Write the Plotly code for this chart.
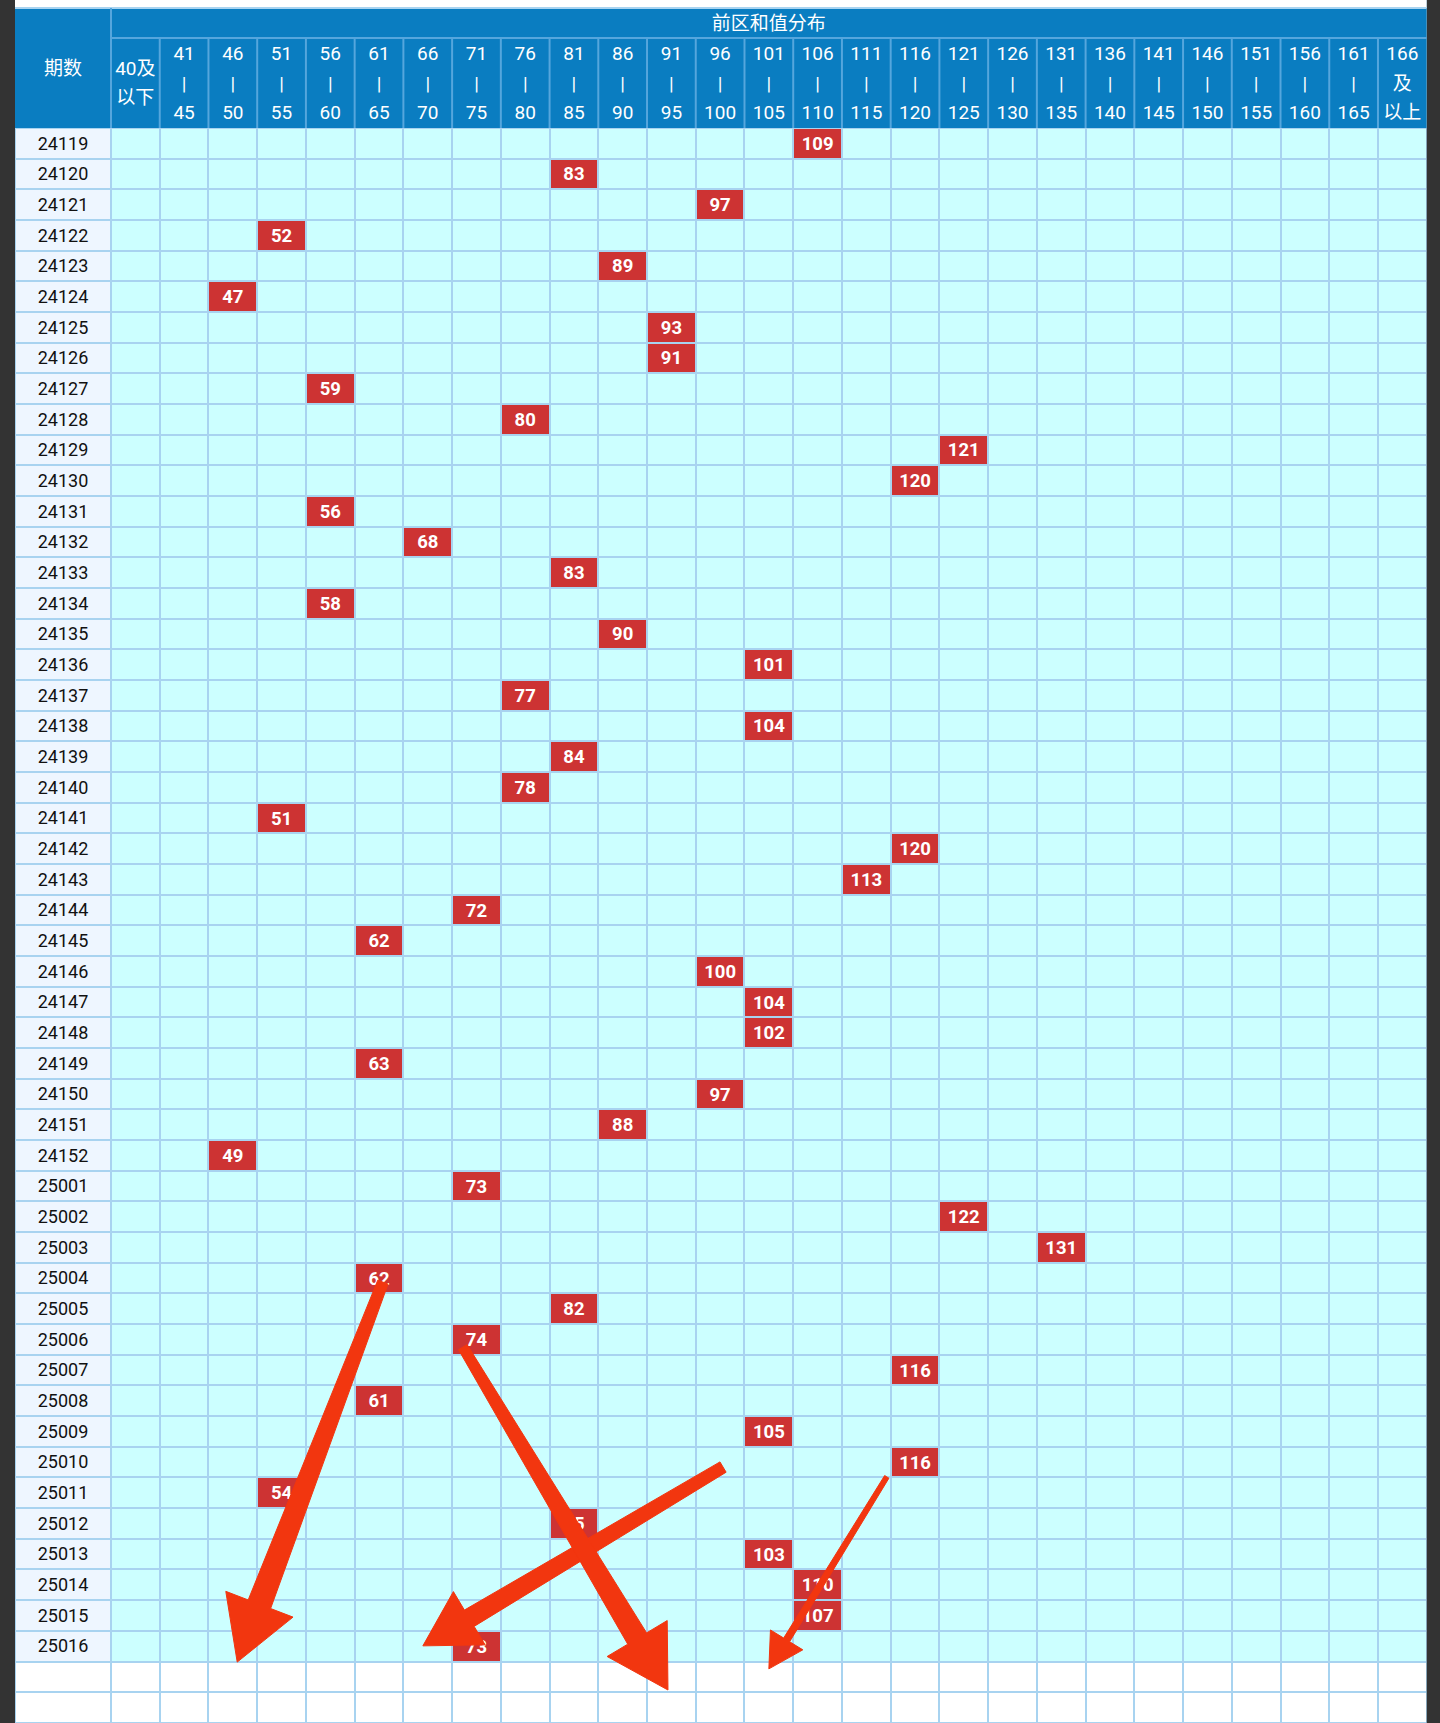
import numpy as np
import plotly.graph_objects as go

# ---------------- data ----------------
periods = ["24119", "24120", "24121", "24122", "24123", "24124", "24125", "24126", "24127", "24128",
           "24129", "24130", "24131", "24132", "24133", "24134", "24135", "24136", "24137", "24138",
           "24139", "24140", "24141", "24142", "24143", "24144", "24145", "24146", "24147", "24148",
           "24149", "24150", "24151", "24152", "25001", "25002", "25003", "25004", "25005", "25006",
           "25007", "25008", "25009", "25010", "25011", "25012", "25013", "25014", "25015", "25016"]
sums = [109, 83, 97, 52, 89, 47, 93, 91, 59, 80,
        121, 120, 56, 68, 83, 58, 90, 101, 77, 104,
        84, 78, 51, 120, 113, 72, 62, 100, 104, 102,
        63, 97, 88, 49, 73, 122, 131, 62, 82, 74,
        116, 61, 105, 116, 54, 85, 103, 110, 107, 73]
range_low = [41, 46, 51, 56, 61, 66, 71, 76, 81, 86, 91, 96, 101, 106, 111,
             116, 121, 126, 131, 136, 141, 146, 151, 156, 161]
range_high = [45, 50, 55, 60, 65, 70, 75, 80, 85, 90, 95, 100, 105, 110, 115,
              120, 125, 130, 135, 140, 145, 150, 155, 160, 165]
first_label = ["40及", "以下"]
last_label = ["166", "及", "以上"]
title_text = "前区和值分布"
period_header = "期数"
blank_rows = 2

# ---------------- layout geometry ----------------
W, H = 1440, 1723
XS, YS = 48.73, 30.67            # px per column / per row
DATA_LEFT, HEAD_BOTTOM = 111, 128
LEFT_PX, RIGHT_PX = 15, 1426.7
TXT_DY = 1.8 / YS                # small downward nudge for text baseline


def xu(px):
    return (px - DATA_LEFT) / XS - 0.5


def yu(py):
    return (py - HEAD_BOTTOM) / YS - 0.5


n_cols = len(range_low) + 2
n_rows = len(periods)

C_CYAN = "#ccffff"
C_RED = "#cd3333"
C_WHITE = "#ffffff"
C_PERIOD = "#eef6ff"
C_GRID = "#a8d3f0"
C_HEAD = "#0a7dc1"
C_HEADLINE = "#55a6dd"
C_ARROW = "#f2360f"
FONT = "Roboto, 'Noto Sans CJK SC', sans-serif"


def col_of(v):
    if v <= 40:
        return 0
    if v >= 166:
        return n_cols - 1
    for i, (lo, hi) in enumerate(zip(range_low, range_high)):
        if lo <= v <= hi:
            return i + 1
    return None


# heatmap matrix: period column + data columns; 0 cyan, 1 red, 2 white, 3 period
z = []
for r in range(n_rows + blank_rows):
    if r < n_rows:
        row = [3] + [0] * n_cols
        row[col_of(sums[r]) + 1] = 1
    else:
        row = [2] * (n_cols + 1)
    z.append(row)

x_edges = [xu(LEFT_PX)] + [c - 0.5 for c in range(n_cols + 1)]
y_edges = [r - 0.5 for r in range(n_rows + blank_rows + 1)]

fig = go.Figure()
fig.add_trace(go.Heatmap(
    z=z, x=x_edges, y=y_edges, zmin=0, zmax=3,
    colorscale=[[0, C_CYAN], [1 / 3, C_RED], [2 / 3, C_WHITE], [1, C_PERIOD]],
    showscale=False, xgap=2, ygap=2, hoverinfo="skip"))

period_x = (x_edges[0] + x_edges[1]) / 2
row_y = [r + TXT_DY for r in range(n_rows)]

# period labels
fig.add_trace(go.Scatter(
    x=[period_x] * n_rows, y=row_y, text=periods, mode="text",
    textfont=dict(family=FONT, size=18, color="#111111"), hoverinfo="skip"))

# values in red cells
fig.add_trace(go.Scatter(
    x=[col_of(v) for v in sums], y=row_y, text=[str(v) for v in sums],
    mode="text", textfont=dict(family=FONT, size=18.5, color="white", weight="bold"),
    hoverinfo="skip"))

# header labels
y_top, y_mid, y_bot = yu(55.5), yu(85.5), yu(114.5)
hx, hy, ht = [], [], []
for i, (lo, hi) in enumerate(zip(range_low, range_high)):
    c = i + 1
    hx += [c, c, c]
    hy += [y_top, y_mid, y_bot]
    ht += [str(lo), "|", str(hi)]
hx += [0, 0]
hy += [yu(70.5), yu(99.5)]
ht += first_label
c = n_cols - 1
hx += [c, c, c]
hy += [y_top, y_mid, y_bot]
ht += last_label
hx += [(n_cols - 1) / 2, period_x]
hy += [yu(25.5), (yu(8) + yu(128)) / 2 + TXT_DY]
ht += [title_text, period_header]
fig.add_trace(go.Scatter(
    x=hx, y=hy, text=ht, mode="text",
    textfont=dict(family=FONT, size=19, color="white"), hoverinfo="skip"))

# ---------------- shapes ----------------
shapes = []
x0, x1 = x_edges[0], n_cols - 0.5
# top white band
shapes.append(dict(type="rect", xref="x", yref="y", x0=x0, x1=x1, y0=yu(0), y1=yu(8),
                   fillcolor="white", line=dict(width=0), layer="below"))
# header block
shapes.append(dict(type="rect", xref="x", yref="y", x0=x0, x1=x1, y0=yu(8), y1=-0.5,
                   fillcolor=C_HEAD, line=dict(width=0), layer="below"))
shapes.append(dict(type="line", xref="x", yref="y", x0=x0, x1=x1, y0=yu(8), y1=yu(8),
                   line=dict(color=C_GRID, width=2), layer="below"))
# header separators
shapes.append(dict(type="line", xref="x", yref="y", x0=-0.5, x1=x1, y0=yu(38), y1=yu(38),
                   line=dict(color=C_HEADLINE, width=2), layer="below"))
shapes.append(dict(type="line", xref="x", yref="y", x0=-0.5, x1=-0.5, y0=yu(8), y1=-0.5,
                   line=dict(color=C_HEADLINE, width=2), layer="below"))
for c in range(n_cols - 1):
    shapes.append(dict(type="line", xref="x", yref="y", x0=c + 0.5, x1=c + 0.5, y0=yu(38), y1=-0.5,
                       line=dict(color=C_HEADLINE, width=2), layer="below"))

# hand-drawn red arrows (annotation overlay)
arrows = [
    dict(tail=(5.08, 37.13), tip=(2.09, 49.52), w0=11, w1=24, hl=62, hw=36),
    dict(tail=(12.06, 43.16), tip=(5.90, 48.99), w0=12, w1=19, hl=54, hw=31),
    dict(tail=(6.72, 39.25), tip=(10.93, 50.43), w0=10, w1=22, hl=60, hw=35),
    dict(tail=(15.42, 43.48), tip=(13.00, 49.74), w0=5, w1=7, hl=34, hw=19),
]


def arrow_path(tail, tip, w0, w1, hl, hw):
    t = np.array([tail[0] * XS, tail[1] * YS])
    p = np.array([tip[0] * XS, tip[1] * YS])
    d = p - t
    u = d / np.hypot(*d)
    n = np.array([-u[1], u[0]])
    base = p - u * hl
    pts = [t + n * w0 / 2, base + n * w1 / 2, base + n * hw, p,
           base - n * hw, base - n * w1 / 2, t - n * w0 / 2]
    return "M " + " L ".join(f"{q[0] / XS:.4f},{q[1] / YS:.4f}" for q in pts) + " Z"


for a in arrows:
    shapes.append(dict(type="path", xref="x", yref="y", path=arrow_path(**a),
                       fillcolor=C_ARROW, line=dict(color=C_ARROW, width=1), layer="above"))

fig.update_layout(
    width=W, height=H, margin=dict(l=0, r=0, t=0, b=0, pad=0),
    paper_bgcolor="#333333", plot_bgcolor=C_GRID,
    showlegend=False, shapes=shapes,
    xaxis=dict(domain=[LEFT_PX / W, RIGHT_PX / W], range=[x0, xu(RIGHT_PX)],
               visible=False, fixedrange=True),
    yaxis=dict(domain=[0, 1], range=[yu(H), yu(0)], visible=False, fixedrange=True),
)

fig.write_html("out.html", config={"displayModeBar": False, "staticPlot": True},
               post_script="document.body.style.margin='0';document.body.style.background='#333';")
